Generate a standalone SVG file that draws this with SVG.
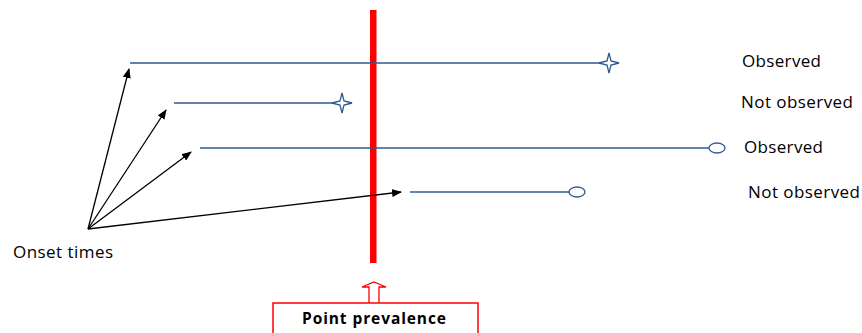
<svg xmlns="http://www.w3.org/2000/svg" xmlns:xlink="http://www.w3.org/1999/xlink" width="862" height="333" viewBox="0 0 862 333">
<style>
.tl{stroke:#2F5A8F;stroke-width:1.6;fill:none}
.end{stroke:#2F5A8F;stroke-width:1.3;fill:#fff}
.arr{stroke:#000;stroke-width:1.3;fill:none;marker-end:url(#ah)}
.lbl{font-family:"Open Sans","Liberation Sans",sans-serif;font-size:17px;fill:#000}
.bold{font-family:"Open Sans","Liberation Sans",sans-serif;font-size:15.5px;font-weight:bold;fill:#000}
</style>
<defs>
<marker id="ah" markerWidth="10" markerHeight="8" refX="9" refY="4" orient="auto" markerUnits="userSpaceOnUse">
<path d="M0,0 L10,4 L0,8 Z" fill="#000"/>
</marker>
<path id="star" d="M0,-10 L2,-2 L10,0 L2,2 L0,10 L-2,2 L-10,0 L-2,-2 Z"/>
</defs>
<rect width="862" height="333" fill="#fff"/>
<g id="prevalence-line"><rect x="370" y="10" width="6.5" height="253" fill="#FF0000"/></g>
<g id="timeline1"><line class="tl" x1="130" y1="63" x2="602" y2="63"/><use href="#star" xlink:href="#star" x="609" y="63" class="end"/></g>
<g id="timeline2"><line class="tl" x1="174" y1="103" x2="335" y2="103"/><use href="#star" xlink:href="#star" x="342" y="103" class="end"/></g>
<g id="timeline3"><line class="tl" x1="200" y1="148" x2="709" y2="148"/><ellipse class="end" cx="717" cy="148" rx="8" ry="5"/></g>
<g id="timeline4"><line class="tl" x1="410" y1="192" x2="569" y2="192"/><ellipse class="end" cx="577" cy="192" rx="8" ry="5"/></g>
<g id="connectors">
<line class="arr" x1="88" y1="229" x2="129" y2="69"/>
<line class="arr" x1="88" y1="229" x2="166" y2="110"/>
<line class="arr" x1="88" y1="229" x2="191" y2="152"/>
<line class="arr" x1="88" y1="229" x2="401" y2="192"/>
</g>
<g id="labels">
<text class="lbl" x="742" y="67" textLength="79">Observed</text>
<text class="lbl" x="741" y="108" textLength="112">Not observed</text>
<text class="lbl" x="744" y="153" textLength="79">Observed</text>
<text class="lbl" x="748" y="198" textLength="112">Not observed</text>
<text class="lbl" x="13" y="258" textLength="100">Onset times</text>
</g>
<g id="point-prevalence">
<path d="M369,303 L369,287 L362,287 L374,282 L386,287 L379,287 L379,303" fill="#fff" stroke="#FF0000" stroke-width="1.3"/>
<rect x="273" y="303" width="205" height="40" fill="#fff" stroke="#FF0000" stroke-width="1.5"/>
<text class="bold" x="374" y="324" text-anchor="middle" textLength="144">Point prevalence</text>
</g>
</svg>
